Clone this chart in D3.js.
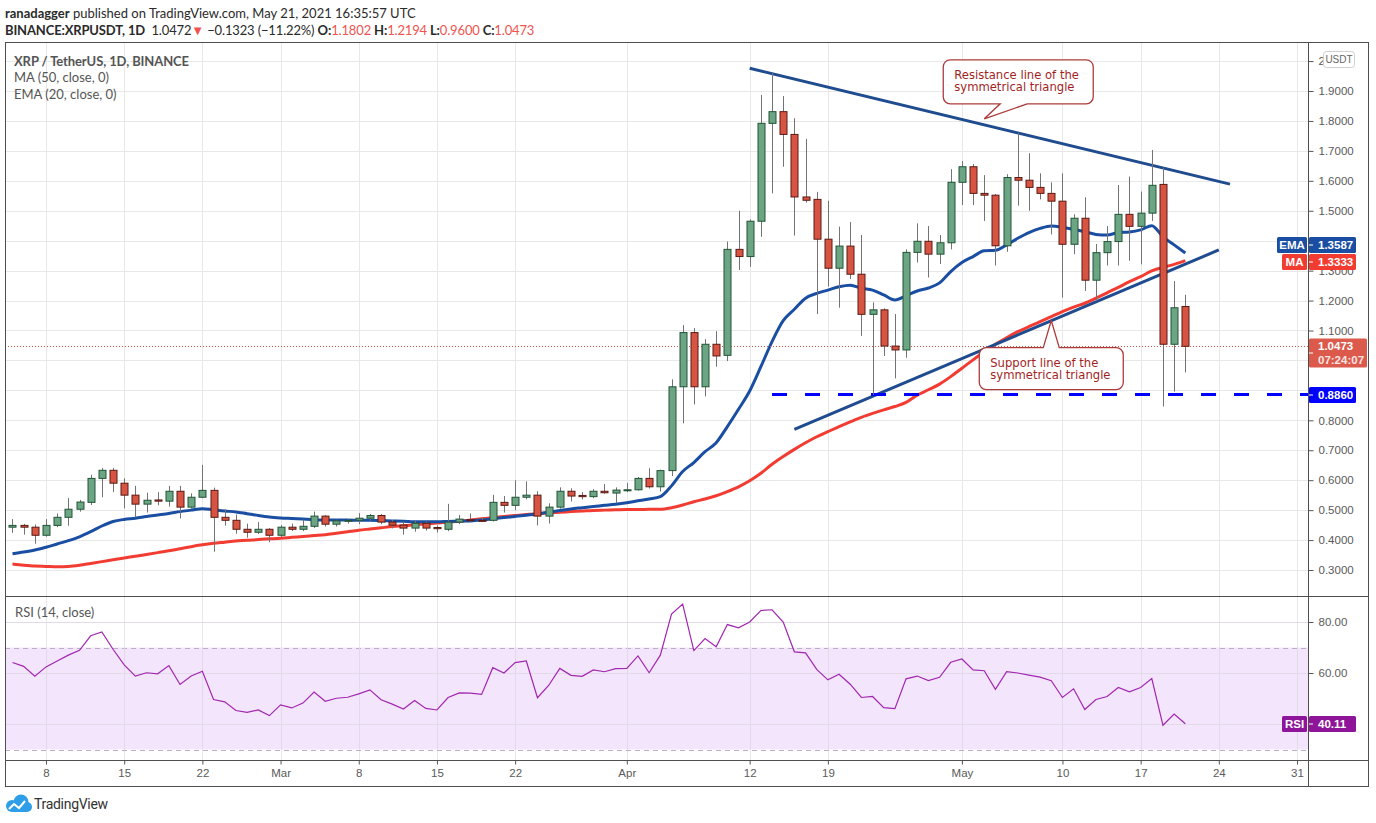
<!DOCTYPE html>
<html>
<head>
<meta charset="utf-8">
<script src="https://cdn.jsdelivr.net/npm/d3@7"></script>
<style>
  body { margin: 0; background: #fff; }
  svg { display: block; }
</style>
</head>
<body>
<svg></svg>
<script>
// XRP / TetherUS daily, 5 Feb - 21 May 2021
const startDay = "2021-02-05";

const opens = [0.443,0.449,0.443,0.416,0.449,0.476,0.503,0.526,0.606,0.633,0.590,0.550,0.520,0.534,0.530,0.563,0.510,0.543,0.566,0.476,0.466,0.436,0.426,0.436,0.416,0.443,0.436,0.446,0.480,
  0.453,0.463,0.466,0.473,0.482,0.460,0.450,0.440,0.456,0.442,0.436,0.460,0.468,0.466,0.466,0.526,0.516,0.543,0.550,0.480,0.510,0.563,0.549,0.545,0.563,0.557,0.567,0.568,0.606,0.578,
  0.632,0.912,1.093,0.912,1.054,1.017,1.371,1.347,1.465,1.792,1.831,1.755,1.546,1.538,1.405,1.308,1.382,1.288,1.154,1.169,1.048,1.035,1.361,1.398,1.355,
  1.393,1.595,1.647,1.558,1.552,1.383,1.611,1.602,1.578,1.558,1.532,1.388,1.475,1.268,1.360,1.397,1.488,1.448,1.492,1.588,1.054,1.1802];
const highs = [0.470,0.454,0.452,0.470,0.489,0.540,0.534,0.618,0.641,0.641,0.606,0.581,0.558,0.560,0.581,0.581,0.556,0.651,0.575,0.502,0.485,0.455,0.460,0.440,0.450,0.455,0.468,0.495,0.483,
  0.468,0.470,0.490,0.487,0.487,0.467,0.462,0.467,0.462,0.449,0.521,0.484,0.489,0.476,0.551,0.547,0.600,0.596,0.563,0.523,0.576,0.573,0.560,0.570,0.587,0.576,0.591,0.611,0.640,0.635,
  0.937,1.118,1.108,1.071,1.098,1.397,1.500,1.471,1.887,1.961,1.883,1.809,1.740,1.563,1.533,1.447,1.462,1.419,1.194,1.174,1.155,1.371,1.458,1.449,1.419,
  1.639,1.666,1.656,1.619,1.556,1.622,1.761,1.692,1.625,1.595,1.625,1.488,1.545,1.389,1.449,1.586,1.614,1.564,1.703,1.644,1.265,1.2194];
const lows = [0.424,0.418,0.388,0.411,0.443,0.448,0.495,0.517,0.543,0.560,0.506,0.476,0.492,0.516,0.512,0.472,0.505,0.540,0.361,0.448,0.421,0.408,0.420,0.393,0.410,0.430,0.430,0.440,0.445,
  0.445,0.455,0.453,0.465,0.453,0.439,0.418,0.428,0.432,0.425,0.430,0.453,0.460,0.460,0.462,0.492,0.500,0.536,0.449,0.455,0.505,0.529,0.536,0.540,0.555,0.523,0.560,0.565,0.572,0.562,
  0.614,0.790,0.853,0.880,0.979,0.998,1.302,1.313,1.413,1.558,1.647,1.417,1.527,1.155,1.247,1.176,1.272,1.082,0.885,1.015,0.940,1.009,1.327,1.277,1.322,
  1.371,1.519,1.519,1.466,1.317,1.363,1.517,1.500,1.538,1.421,1.210,1.355,1.232,1.199,1.317,1.317,1.333,1.321,1.466,0.846,0.896,0.9600];
const closes = [0.449,0.443,0.416,0.449,0.476,0.503,0.527,0.606,0.633,0.590,0.550,0.520,0.533,0.530,0.563,0.510,0.543,0.566,0.476,0.466,0.436,0.426,0.436,0.416,0.443,0.436,0.446,0.480,0.453,
  0.464,0.466,0.473,0.482,0.460,0.450,0.440,0.456,0.440,0.438,0.460,0.470,0.466,0.465,0.526,0.516,0.543,0.550,0.480,0.510,0.563,0.547,0.545,0.563,0.558,0.567,0.568,0.606,0.578,0.632,
  0.912,1.093,0.912,1.054,1.015,1.371,1.347,1.465,1.792,1.831,1.755,1.546,1.535,1.405,1.308,1.382,1.288,1.154,1.169,1.048,1.035,1.361,1.398,1.355,1.393,
  1.595,1.647,1.558,1.552,1.383,1.611,1.602,1.578,1.558,1.532,1.388,1.475,1.268,1.360,1.397,1.488,1.448,1.492,1.585,1.054,1.176,1.0473];

const ema20 = [0.354,0.360,0.367,0.376,0.387,0.398,0.411,0.428,0.447,0.462,0.469,0.473,0.479,0.484,0.489,0.495,0.500,0.505,0.501,0.497,0.494,0.488,0.482,0.477,0.474,0.472,0.470,0.468,0.467,
  0.467,0.467,0.466,0.466,0.465,0.464,0.463,0.461,0.461,0.461,0.462,0.463,0.464,0.467,0.471,0.475,0.479,0.483,0.487,0.493,0.499,0.504,0.508,0.512,0.516,0.520,0.525,0.531,0.537,0.545,
  0.581,0.629,0.659,0.695,0.725,0.779,0.837,0.898,0.979,1.063,1.133,1.171,1.208,1.224,1.235,1.246,1.251,1.241,1.235,1.219,1.202,1.216,1.232,1.242,1.259,
  1.297,1.327,1.347,1.366,1.368,1.386,1.408,1.427,1.441,1.449,1.445,1.438,1.430,1.421,1.419,1.427,1.429,1.436,1.450,1.413,1.386,1.3587];
const ma50 = [0.320,0.316,0.313,0.312,0.311,0.312,0.316,0.322,0.328,0.334,0.340,0.346,0.352,0.358,0.364,0.371,0.378,0.384,0.389,0.393,0.397,0.399,0.402,0.404,0.406,0.409,0.412,0.415,0.418,
  0.423,0.428,0.433,0.437,0.441,0.445,0.448,0.451,0.454,0.457,0.460,0.463,0.467,0.471,0.475,0.479,0.482,0.485,0.488,0.491,0.493,0.495,0.497,0.499,0.500,0.501,0.502,0.502,0.503,0.503,
  0.508,0.517,0.528,0.537,0.548,0.562,0.578,0.598,0.623,0.653,0.679,0.703,0.725,0.745,0.762,0.779,0.795,0.810,0.823,0.835,0.846,0.860,0.884,0.902,0.921,
  0.946,0.974,1.002,1.029,1.054,1.076,1.096,1.113,1.130,1.146,1.163,1.178,1.191,1.208,1.226,1.244,1.263,1.280,1.299,1.311,1.321,1.3333];
const rsi14 = [64.1,62.6,58.7,62.4,64.7,67.0,68.9,74.6,76.1,69.3,63.2,58.8,60.1,59.7,62.9,55.5,58.8,60.7,49.6,48.7,
  45.3,44.6,45.5,43.3,47.5,46.3,48.2,52.5,48.9,50.1,50.5,51.8,53.4,49.5,47.8,45.9,49.2,46.1,45.5,50.4,
  52.2,52.1,51.6,62.1,60.0,64.1,64.7,50.3,55.1,61.8,59.1,58.7,61.2,60.5,61.7,61.8,66.7,60.1,67.0,83.1,
  87.0,68.8,73.5,70.3,79.0,77.7,80.0,84.5,84.8,80.0,68.3,67.9,61.4,57.3,59.5,55.6,50.4,50.8,46.4,46.0,
  57.7,58.8,57.0,58.3,64.2,65.5,61.2,60.9,53.6,60.5,60.0,59.2,58.4,57.0,50.4,53.8,45.7,49.6,50.8,54.3,
  52.6,54.3,57.8,39.5,43.9,40.11];

const dateTicks = ["2021-02-08","2021-02-15","2021-02-22","2021-03-01","2021-03-08","2021-03-15","2021-03-22",
  "2021-04-01","2021-04-12","2021-04-19","2021-05-01","2021-05-10","2021-05-17","2021-05-24","2021-05-31"];
const priceTicks = [0.3,0.4,0.5,0.6,0.7,0.8,0.9,1.0,1.1,1.2,1.3,1.4,1.5,1.6,1.7,1.8,1.9,2.0];
const rsiTicks = [40, 60, 80];
const rsiBand = [30, 70];

const resistanceLine = [["2021-04-12", 1.976], ["2021-05-25", 1.589]];
const supportLine = [["2021-04-16", 0.770], ["2021-05-24", 1.369]];
const supportLevel = ["2021-04-14", 0.886];
const lastPrice = 1.0473;

let svg = d3.select("svg").attr("width", 1376).attr("height", 823);
const parse = d3.utcParse("%Y-%m-%d");
const t0 = parse(startDay);
const dates = closes.map((c, i) => d3.utcDay.offset(t0, i));

const left = 5, right = 1368, axisX = 1308;
const priceTop = 42, priceBottom = 596, rsiBottom = 760, bottom = 786;

const x = d3.scaleUtc().domain([parse("2021-02-08"), parse("2021-05-31")]).range([46, 1297]);
const y = d3.scaleLinear().domain([0.3, 1.9]).range([570, 91]);
const yRsi = d3.scaleLinear().domain([40, 80]).range([724, 622]);

const axisFont = "'Liberation Sans', Arial, sans-serif";
const uiFont = "Lato, 'Open Sans', sans-serif";
const gridColor = "#e8e8e8";

// ---- header
let header = svg.append("g").style("font-family", uiFont).style("font-size", "13px").attr("fill", "#2a2a2a");
let h1 = header.append("text").attr("x", left).attr("y", 18);
h1.append("tspan").style("font-weight", "bold").text("ranadagger");
h1.append("tspan").text(" published on TradingView.com, May 21, 2021 16:35:57 UTC");
let h2 = header.append("text").attr("x", left).attr("y", 35).style("letter-spacing", "-0.15px");
h2.append("tspan").style("font-weight", "bold").text("BINANCE:XRPUSDT, 1D");
h2.append("tspan").text("\u00a0 1.0472");
h2.append("tspan").attr("fill", "#ef5350").text("\u25BC");
h2.append("tspan").text(" \u22120.1323 (\u221211.22%) ");
[["O:", "1.1802"], ["H:", "1.2194"], ["L:", "0.9600"], ["C:", "1.0473"]].forEach((p, i) => {
  h2.append("tspan").style("font-weight", "bold").text((i ? " " : "") + p[0]);
  h2.append("tspan").attr("fill", "#ef5350").text(p[1]);
});

// ---- grid
let grid = svg.append("g").attr("stroke", gridColor).attr("stroke-width", 1);
grid.selectAll(".vg").data(dateTicks.map(parse)).join("line")
  .attr("x1", d => Math.round(x(d)) + 0.5).attr("x2", d => Math.round(x(d)) + 0.5)
  .attr("y1", priceTop).attr("y2", rsiBottom);
grid.selectAll(".hg").data(priceTicks).join("line")
  .attr("x1", left).attr("x2", axisX)
  .attr("y1", d => Math.round(y(d)) + 0.5).attr("y2", d => Math.round(y(d)) + 0.5);

// ---- RSI pane background
svg.append("rect")
  .attr("x", left).attr("width", axisX - left)
  .attr("y", yRsi(rsiBand[1])).attr("height", yRsi(rsiBand[0]) - yRsi(rsiBand[1]))
  .attr("fill", "#f3e5fc");
svg.append("g").selectAll("line").data(rsiTicks).join("line")
  .attr("x1", left).attr("x2", axisX)
  .attr("y1", d => Math.round(yRsi(d)) + 0.5).attr("y2", d => Math.round(yRsi(d)) + 0.5)
  .attr("stroke", "#e2dae8");
svg.append("g").selectAll("line").data(rsiBand).join("line")
  .attr("x1", left).attr("x2", axisX)
  .attr("y1", d => Math.round(yRsi(d)) + 0.5).attr("y2", d => Math.round(yRsi(d)) + 0.5)
  .attr("stroke", "#bcaec6").attr("stroke-dasharray", "5,4");
svg.selectAll(".vg2").data(dateTicks.map(parse)).join("line")
  .attr("x1", d => Math.round(x(d)) + 0.5).attr("x2", d => Math.round(x(d)) + 0.5)
  .attr("y1", yRsi(rsiBand[1])).attr("y2", yRsi(rsiBand[0]))
  .attr("stroke", "#e2dae8");

// ---- legends
let legend = svg.append("g").style("font-family", uiFont).style("font-size", "13px").attr("fill", "#555");
legend.append("text").attr("x", 14).attr("y", 66).style("font-weight", "bold").style("letter-spacing", "-0.1px").text("XRP / TetherUS, 1D, BINANCE");
legend.append("text").attr("x", 14).attr("y", 82).text("MA (50, close, 0)");
legend.append("text").attr("x", 14).attr("y", 99).text("EMA (20, close, 0)");
legend.append("text").attr("x", 15).attr("y", 617).text("RSI (14, close)");

// ---- moving averages
const smooth = d3.line().x((d, i) => x(dates[i])).y(d => y(d)).curve(d3.curveMonotoneX);
svg.append("path").attr("d", smooth(ma50)).attr("fill", "none").attr("stroke", "#f23c32").attr("stroke-width", 3);
svg.append("path").attr("d", smooth(ema20)).attr("fill", "none").attr("stroke", "#1a4ea3").attr("stroke-width", 3);

// ---- last price dotted line
svg.append("line")
  .attr("x1", left).attr("x2", axisX)
  .attr("y1", Math.round(y(lastPrice)) + 0.5).attr("y2", Math.round(y(lastPrice)) + 0.5)
  .attr("stroke", "#d9574a").attr("stroke-dasharray", "1,2");

// ---- trend lines
const trend = d3.line().x(d => x(parse(d[0]))).y(d => y(d[1]));
svg.append("path").attr("d", trend(resistanceLine)).attr("stroke", "#1f4b8f").attr("stroke-width", 3).attr("fill", "none");
svg.append("path").attr("d", trend(supportLine)).attr("stroke", "#1f4b8f").attr("stroke-width", 3).attr("fill", "none");

svg.append("line")
  .attr("x1", x(parse(supportLevel[0]))).attr("x2", axisX)
  .attr("y1", y(supportLevel[1])).attr("y2", y(supportLevel[1]))
  .attr("stroke", "#0000ff").attr("stroke-width", 3).attr("stroke-dasharray", "15,18");

// ---- candles
const candles = closes.map((c, i) => ({ date: dates[i], o: opens[i], h: highs[i], l: lows[i], c: c }));
let cg = svg.append("g");
cg.selectAll("line").data(candles).join("line")
  .attr("x1", d => Math.round(x(d.date)) + 0.5).attr("x2", d => Math.round(x(d.date)) + 0.5)
  .attr("y1", d => y(d.h)).attr("y2", d => y(d.l))
  .attr("stroke", "#737375").attr("stroke-width", 1);
cg.selectAll("rect").data(candles).join("rect")
  .attr("x", d => Math.round(x(d.date)) - 3)
  .attr("width", 7)
  .attr("y", d => y(Math.max(d.o, d.c)))
  .attr("height", d => Math.max(1, Math.abs(y(d.o) - y(d.c))))
  .attr("fill", d => d.c >= d.o ? "#6ba583" : "#d75442")
  .attr("stroke", d => d.c >= d.o ? "#225437" : "#5b1a13")
  .attr("stroke-width", 1);

// ---- RSI line
const rsiLine = d3.line().x((d, i) => x(dates[i])).y(d => yRsi(d));
svg.append("path").attr("d", rsiLine(rsi14)).attr("fill", "none").attr("stroke", "#a127b0").attr("stroke-width", 1.2);

// ---- callouts
function callout(tipDate, tipPrice, box, base, lines, textY) {
  const tx = x(parse(tipDate)), ty = y(tipPrice);
  const x0 = tx + box[0], x1 = tx + box[1], y0 = ty + box[2], y1 = ty + box[3];
  const r = 7;
  const above = y1 < ty;
  const p = d3.path();
  p.moveTo(x0 + r, y0);
  if (!above) { p.lineTo(tx + base[0], y0); p.lineTo(tx, ty); p.lineTo(tx + base[1], y0); }
  p.lineTo(x1 - r, y0); p.arcTo(x1, y0, x1, y0 + r, r);
  p.lineTo(x1, y1 - r); p.arcTo(x1, y1, x1 - r, y1, r);
  if (above) { p.lineTo(tx + base[1], y1); p.lineTo(tx, ty); p.lineTo(tx + base[0], y1); }
  p.lineTo(x0 + r, y1); p.arcTo(x0, y1, x0, y1 - r, r);
  p.lineTo(x0, y0 + r); p.arcTo(x0, y0, x0 + r, y0, r);
  p.closePath();
  let g = svg.append("g");
  g.append("path").attr("d", p.toString()).attr("fill", "#fff").attr("stroke", "#ad3b3b").attr("stroke-width", 1.3);
  g.selectAll("text").data(lines).join("text")
    .attr("x", x0 + 11).attr("y", (d, i) => ty + textY + i * 12.5)
    .style("font-family", "'DejaVu Sans', Verdana, sans-serif").style("font-size", "11.6px")
    .attr("fill", "#a21f1f").text(d => d);
}
callout("2021-05-03", 1.807, [-41, 109, -59, -15], [16, 43], ["Resistance line of the", "symmetrical triangle"], -40);
callout("2021-05-09", 1.133, [-72, 72, 27, 69], [-8, 8], ["Support line of the", "symmetrical triangle"], 46);

// ---- frame
let frame = svg.append("g").attr("stroke", "#4e4e4e").attr("stroke-width", 1).attr("fill", "none");
frame.append("rect").attr("x", left + 0.5).attr("y", priceTop + 0.5).attr("width", right - left).attr("height", bottom - priceTop);
frame.append("line").attr("x1", left).attr("x2", right + 0.5).attr("y1", priceBottom + 0.5).attr("y2", priceBottom + 0.5);
frame.append("line").attr("x1", left).attr("x2", right + 0.5).attr("y1", rsiBottom + 0.5).attr("y2", rsiBottom + 0.5);
frame.append("line").attr("x1", axisX + 0.5).attr("x2", axisX + 0.5).attr("y1", priceTop).attr("y2", bottom);

// ---- axis badges (value tags sitting on the price / RSI scales)
const badges = [
  { yc: 245, h: 16, fill: "#1a4ea3", lines: ["1.3587"], label: "EMA", labelW: 30 },
  { yc: 262, h: 16, fill: "#f23c32", lines: ["1.3333"], label: "MA", labelW: 25 },
  { yc: Math.round(y(lastPrice)) + 7, h: 29, fill: "#dc5a4b", lines: [d3.format(".4f")(lastPrice), "07:24:07"] },
  { yc: Math.round(y(supportLevel[1])), h: 16, fill: "#0000ff", lines: [d3.format(".4f")(supportLevel[1])] },
  { yc: Math.round(yRsi(rsi14[rsi14.length - 1])), h: 16, fill: "#8e1599", lines: [d3.format(".2f")(rsi14[rsi14.length - 1])], label: "RSI", labelW: 25 }
];
const covered = v => badges.some(b => v > b.yc - b.h / 2 && v < b.yc + b.h / 2);

// ---- axes
function styleAxis(g) {
  g.select(".domain").remove();
  g.selectAll(".tick line").attr("stroke", "#555");
  g.selectAll(".tick text").attr("fill", "#5a5a5a").style("font-family", axisFont).style("font-size", "11.5px");
}
svg.append("g").attr("transform", `translate(${axisX + 0.5},0)`)
  .call(d3.axisRight(y).tickValues(priceTicks.filter(p => !covered(y(p)))).tickFormat(d3.format(".4f")).tickSize(5).tickPadding(5))
  .call(styleAxis);
svg.append("g").attr("transform", `translate(${axisX + 0.5},0)`)
  .call(d3.axisRight(yRsi).tickValues(rsiTicks.filter(r => !covered(yRsi(r)))).tickFormat(d3.format(".2f")).tickSize(5).tickPadding(5))
  .call(styleAxis);
const dayFmt = d => d.getUTCDate() === 1 ? d3.utcFormat("%b")(d) : d3.utcFormat("%-d")(d);
svg.append("g").attr("transform", `translate(0,${rsiBottom + 0.5})`)
  .call(d3.axisBottom(x).tickValues(dateTicks.map(parse)).tickFormat(dayFmt).tickSize(4).tickPadding(4))
  .call(styleAxis);

function badge(b) {
  let g = svg.append("g").style("font-family", axisFont).style("font-size", "11.5px").style("font-weight", "bold");
  const w = b.lines.length > 1 ? 58 : 47;
  g.append("rect").attr("x", axisX + 1).attr("y", b.yc - b.h / 2).attr("width", w).attr("height", b.h).attr("rx", 1.5).attr("fill", b.fill);
  g.append("line").attr("x1", axisX + 1).attr("x2", axisX + 5).attr("y1", b.yc).attr("y2", b.yc).attr("stroke", "#fff");
  g.selectAll("text.v").data(b.lines).join("text")
    .attr("x", axisX + 10).attr("y", (d, i) => b.yc + 4 - (b.lines.length - 1) * 7 + i * 14)
    .attr("fill", "#fff").style("opacity", (d, i) => i ? 0.85 : 1).text(d => d);
  if (b.label) {
    g.append("rect").attr("x", axisX - b.labelW - 1).attr("y", b.yc - b.h / 2).attr("width", b.labelW).attr("height", b.h).attr("rx", 1.5).attr("fill", b.fill);
    g.append("text").attr("x", axisX - 1 - b.labelW / 2).attr("y", b.yc + 4).attr("text-anchor", "middle").attr("fill", "#fff").text(b.label);
  }
}
badges.forEach(badge);

// USDT unit tag
svg.append("rect").attr("x", 1323.5).attr("y", 51.5).attr("width", 31).attr("height", 16).attr("rx", 3)
  .attr("fill", "#fff").attr("stroke", "#cfcfcf");
svg.append("text").attr("x", 1339).attr("y", 63).attr("text-anchor", "middle")
  .style("font-family", axisFont).style("font-size", "10px").attr("fill", "#666").text("USDT");

// ---- footer logo
let logo = svg.append("g");
logo.append("circle").attr("cx", 12).attr("cy", 806).attr("r", 6).attr("fill", "#2e9ee8");
logo.append("circle").attr("cx", 21).attr("cy", 802).attr("r", 7.5).attr("fill", "#2e9ee8");
logo.append("circle").attr("cx", 27).attr("cy", 807).attr("r", 5).attr("fill", "#2e9ee8");
logo.append("rect").attr("x", 12).attr("y", 806).attr("width", 15).attr("height", 6).attr("fill", "#2e9ee8");
logo.append("polyline").attr("points", "9,809 14,804 19,808 25,801").attr("fill", "none").attr("stroke", "#fff").attr("stroke-width", 2);
logo.append("text").attr("x", 34).attr("y", 809).style("font-family", "Roboto, sans-serif").style("font-size", "14px")
  .attr("fill", "#333").style("letter-spacing", "-0.3px").text("TradingView");
</script>
</body>
</html>
